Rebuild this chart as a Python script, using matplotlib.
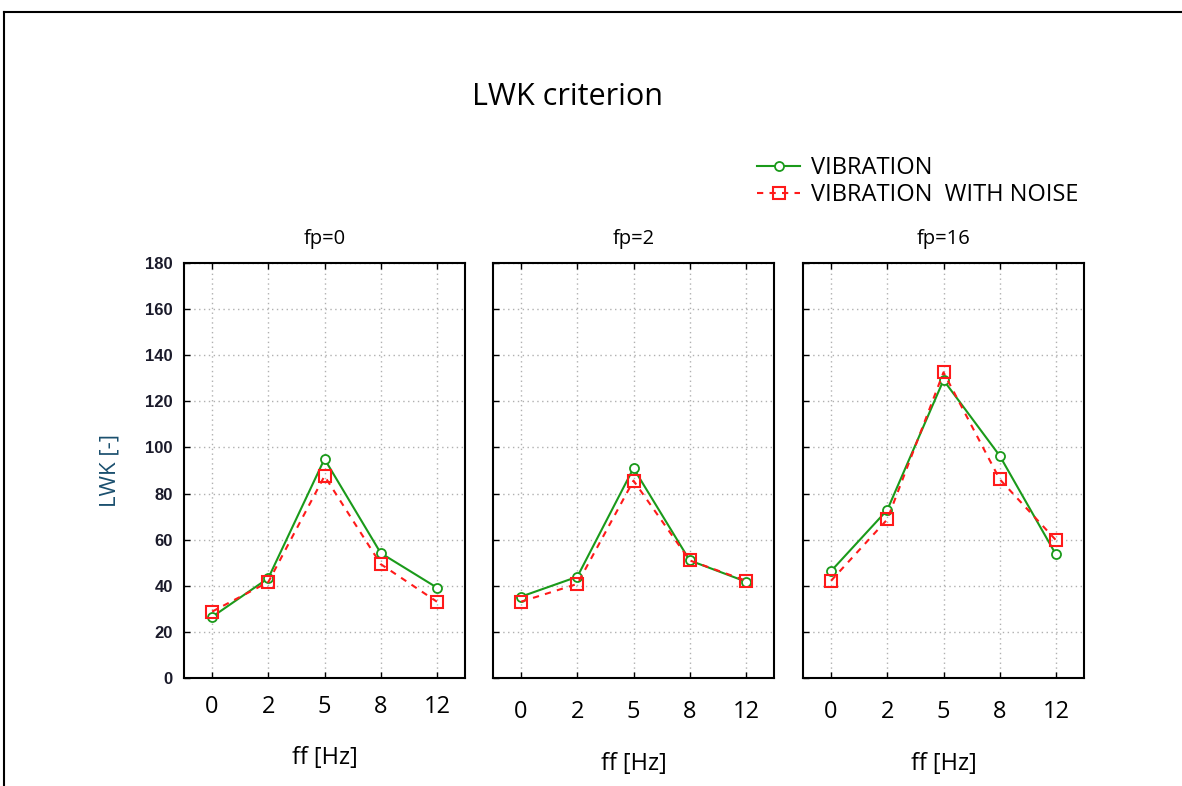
import matplotlib.pyplot as plt
from matplotlib.lines import Line2D

ff = ["0", "2", "5", "8", "12"]
panels = ["fp=0", "fp=2", "fp=16"]

vibration = [
    [26.5, 43.3, 95.0, 54.2, 39.2],
    [35.3, 43.9, 91.0, 51.0, 41.8],
    [46.4, 72.9, 129.2, 96.4, 53.6],
]
vibration_noise = [
    [28.8, 41.6, 87.6, 49.4, 33.1],
    [33.1, 40.8, 85.6, 51.0, 42.2],
    [42.2, 68.8, 132.6, 86.2, 59.8],
]

plt.rcParams["font.family"] = ["Open Sans", "DejaVu Sans"]

fig = plt.figure(figsize=(11.82, 7.86), dpi=100)

lefts = [184, 493, 803]
ax_w = 281 / 1182
ax_h = 415 / 786
bottom = (786 - 678) / 786

for i, name in enumerate(panels):
    ax = fig.add_axes([lefts[i] / 1182, bottom, ax_w, ax_h])
    x = range(len(ff))
    ax.plot(x, vibration[i], color="#1a9a1a", lw=1.5, marker="o", ms=6.5,
            mfc="white", mec="#1a9a1a", mew=1.3, label="VIBRATION", zorder=3)
    ax.plot(x, vibration_noise[i], color="#ff1a1a", lw=1.5, ls=(0, (3, 3)),
            marker="s", ms=9, mfc="none", mec="#ff1a1a", mew=1.5,
            label="VIBRATION  WITH NOISE", zorder=4)
    ax.set_xlim(-0.5, 4.5)
    ax.set_ylim(0, 180)
    ax.set_xticks(list(x))
    ax.set_xticklabels(ff, fontsize=17)
    ax.set_yticks(range(0, 181, 20))
    ax.grid(True, ls=(0, (1, 2.5)), color="#b0b0b0", lw=1)
    ax.tick_params(direction="in", top=True, bottom=True, left=True,
                   right=False, length=4, width=1)
    ax.tick_params(axis="x", pad=12 if i == 0 else 16)
    if i == 0:
        ax.set_yticklabels([str(v) for v in range(0, 181, 20)],
                           fontsize=12, fontweight="bold",
                           fontfamily="Liberation Sans", color="#1a1a2a")
        ax.tick_params(axis="y", pad=8)
        ax.set_ylabel("LWK [-]", fontsize=16, color="#1a4f6e", labelpad=18)
    else:
        ax.set_yticklabels([])
    for s in ax.spines.values():
        s.set_linewidth(1.5)
        s.set_color("black")
    ax.set_xlabel("ff [Hz]", fontsize=17, labelpad=20)
    ax.set_title(name, fontsize=14.5, pad=14)

fig.text(567 / 1182, 1 - 97 / 786, "LWK criterion", fontsize=22,
         ha="center", va="center")

handles, labels = ax.get_legend_handles_labels()
fig.legend(handles, labels, loc="upper left",
           bbox_to_anchor=(748 / 1182, 1 - 147 / 786), frameon=False,
           fontsize=17, handlelength=1.8, handletextpad=0.45,
           labelspacing=0.1, borderaxespad=0)

# outer frame of the exported graph window
fig.add_artist(Line2D([4 / 1182, 1.0], [1 - 12 / 786, 1 - 12 / 786],
                      color="black", lw=1.5, transform=fig.transFigure))
fig.add_artist(Line2D([4 / 1182, 4 / 1182], [0, 1 - 12 / 786],
                      color="black", lw=1.5, transform=fig.transFigure))

fig.savefig("out.png", dpi=100)
